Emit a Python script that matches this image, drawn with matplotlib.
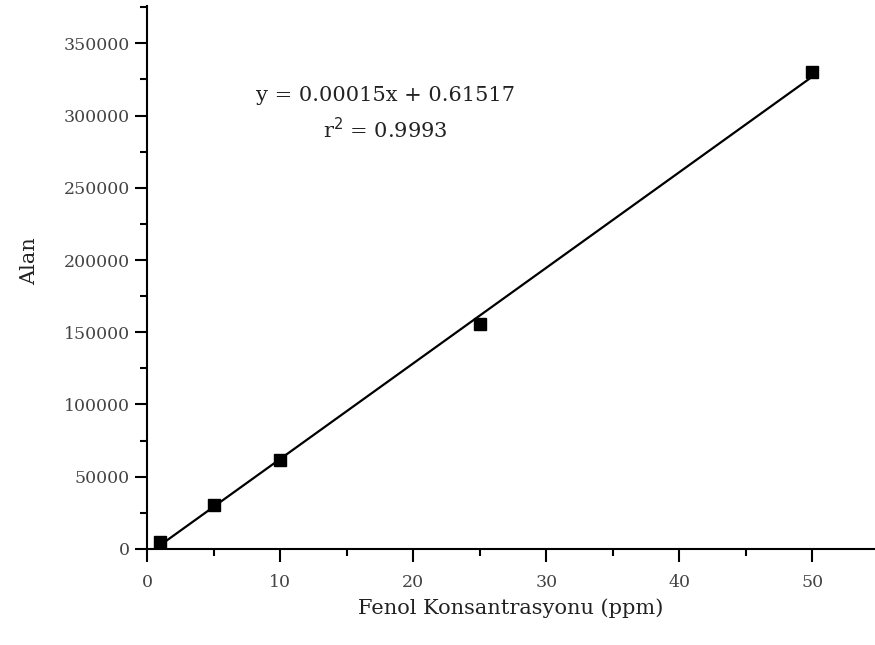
import numpy as np
import matplotlib.pyplot as plt

# calibration data
konsantrasyon = [1, 5, 10, 25, 50]
alan = [5000, 30500, 61500, 155500, 330000]

x_ticks = [0, 10, 20, 30, 40, 50]
y_ticks = [0, 50000, 100000, 150000, 200000, 250000, 300000, 350000]

plt.rcParams['font.family'] = ['DejaVu Serif']

fig = plt.figure(figsize=(8.75, 6.45), dpi=100)
ax = fig.add_axes([0.168, 0.149, 0.832, 0.842])

coef = np.polyfit(konsantrasyon, alan, 1)
xf = np.array([min(konsantrasyon), max(konsantrasyon)])
ax.plot(xf, np.polyval(coef, xf), color='black', lw=1.6, zorder=2)
ax.plot(konsantrasyon, alan, 's', color='black', ms=8, zorder=3)

ax.set_xlim(0, 54.7)
ax.set_ylim(0, 376000)
ax.set_xticks(x_ticks)
ax.set_yticks(y_ticks)
ax.set_xticks(np.arange(5, 55, 10), minor=True)
ax.set_yticks(np.arange(25000, 376000, 50000), minor=True)

for side in ['top', 'right']:
    ax.spines[side].set_visible(False)
for side in ['left', 'bottom']:
    ax.spines[side].set_linewidth(1.5)

ax.tick_params(which='major', length=9, width=1.5, labelsize=12.5, labelcolor='#444444')
ax.tick_params(which='minor', length=5, width=1.5)
ax.tick_params(axis='x', pad=9)

ax.set_xlabel('Fenol Konsantrasyonu (ppm)', fontsize=15, color='#222222', labelpad=5)
ax.set_ylabel('Alan', fontsize=15, color='#222222')
ax.yaxis.set_label_coords(-0.148, 0.53)

ax.text(17.9, 314000, 'y = 0.00015x + 0.61517', ha='center', va='center', fontsize=15, color='#222222')
ax.text(17.9, 290000, 'r$^2$ = 0.9993', ha='center', va='center', fontsize=15, color='#222222')

fig.savefig('out.png', dpi=100)
